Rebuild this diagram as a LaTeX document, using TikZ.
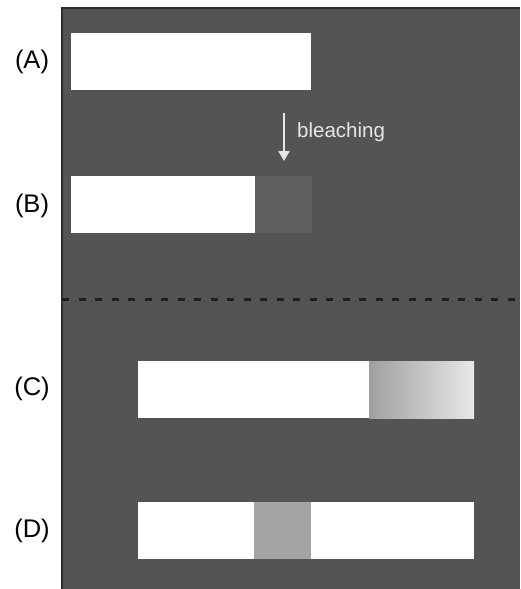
\documentclass[tikz,border=0pt]{standalone}
\usepackage{fontspec}
\setmainfont{Liberation Sans}
\usetikzlibrary{arrows.meta}
\definecolor{panel}{HTML}{545454}
\definecolor{frame}{HTML}{2E2E2E}
\definecolor{bleachB}{HTML}{5F5F5F}
\definecolor{bleachD}{HTML}{A4A4A4}
\definecolor{gradL}{HTML}{A0A0A0}
\definecolor{gradR}{HTML}{E8E8E8}
\definecolor{txtlight}{HTML}{E6E6E6}
\begin{document}
\begin{tikzpicture}[x=1pt,y=-1pt,
  bar/.style={fill=white,draw=none,inner sep=0pt,anchor=north west},
  patch/.style={draw=none,inner sep=0pt,anchor=north west},
  lbl/.style={font=\fontsize{25.5}{30}\selectfont,text=black,inner sep=0pt}]
\useasboundingbox (0,0) rectangle (520,589);
\fill[white] (0,0) rectangle (520,589);
% panel
\fill[panel] (61,7) rectangle (520,589);
\draw[frame,line width=2.2pt] (62,589) -- (62,8) -- (520,8);
% dashed divider
\coordinate (dl) at (62,299);
\coordinate (dr) at (520,299);
\draw[black!88,line width=3pt,dash pattern=on 7pt off 9.5pt] (dl) -- (dr);
% (A)
\node[bar,minimum width=240pt,minimum height=57pt] (barA) at (71,33) {};
\node[lbl] (lA) at (32,62) {(A)};
% arrow
\coordinate (a1) at (284,113);
\coordinate (a2) at (284,161);
\draw[txtlight,line width=2pt,-{Triangle[length=10pt,width=11pt]}] (a1) -- (a2);
\node[text=txtlight,font=\fontsize{20.5}{24}\selectfont,anchor=west,inner sep=0pt] (bl) at (297,132) {bleaching};
% (B)
\node[bar,minimum width=184pt,minimum height=57pt] (barB) at (71,176) {};
\node[patch,fill=bleachB,minimum width=57pt,minimum height=57pt] (spotB) at (255,176) {};
\node[lbl] (lB) at (32,206) {(B)};
% (C)
\node[bar,minimum width=232pt,minimum height=57pt] (barC) at (138,361) {};
\shade[left color=gradL,right color=gradR] (369,361) rectangle (474,418);
\node[lbl] (lC) at (32,389) {(C)};
% (D)
\node[bar,minimum width=336pt,minimum height=57pt] (barD) at (138,502) {};
\node[patch,fill=bleachD,minimum width=57pt,minimum height=57pt] (spotD) at (254,502) {};
\node[lbl] (lD) at (32,531) {(D)};
\end{tikzpicture}
\end{document}
